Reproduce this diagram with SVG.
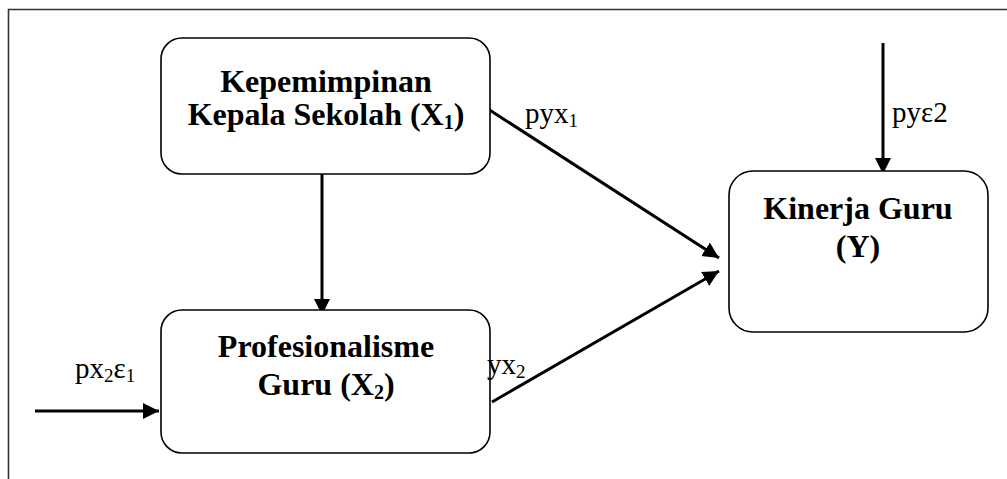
<svg xmlns="http://www.w3.org/2000/svg" width="1007" height="479" viewBox="0 0 1007 479">
<style>
.box{fill:#fff;stroke:#000;stroke-width:1.6}
.t{font-family:"Liberation Serif","Times New Roman",serif;font-weight:bold;font-size:32px;fill:#000;text-anchor:middle}
.lb{font-family:"Liberation Serif","Times New Roman",serif;font-size:29px;fill:#000}
.sub{font-size:19px}
.tsub{font-size:20px}
.c{stroke:#000;stroke-width:3;fill:none;marker-end:url(#ah)}
.frame{stroke:#333;stroke-width:1.6;fill:none}
</style>
<defs>
<marker id="ah" markerUnits="userSpaceOnUse" markerWidth="18" markerHeight="18" refX="16" refY="8" orient="auto">
<path d="M0,0 L16,8 L0,16 z" fill="#000"/>
</marker>
</defs>
<rect width="1007" height="479" fill="#fff"/>
<path class="frame" d="M8.5,479 L8.5,9.5 L1007,9.5"/>
<g id="connectors">
<line class="c" x1="322" y1="174" x2="322" y2="315"/>
<line class="c" x1="488" y1="109" x2="719" y2="258"/>
<line class="c" x1="492" y1="402" x2="719" y2="271"/>
<line class="c" x1="883" y1="43" x2="883" y2="174"/>
<line class="c" x1="35" y1="411" x2="159" y2="411"/>
</g>
<g id="x1">
<rect class="box" x="161" y="38" width="329" height="136" rx="21"/>
<text class="t" x="326" y="92">Kepemimpinan</text>
<text class="t" x="326" y="125">Kepala Sekolah (X<tspan class="tsub" dy="4">1</tspan><tspan dy="-4">)</tspan></text>
</g>
<g id="x2">
<rect class="box" x="161" y="310" width="329" height="143" rx="21"/>
<text class="t" x="326" y="357">Profesionalisme</text>
<text class="t" x="326" y="395">Guru (X<tspan class="tsub" dy="4">2</tspan><tspan dy="-4">)</tspan></text>
</g>
<g id="y">
<rect class="box" x="729" y="171" width="259" height="161" rx="24"/>
<text class="t" x="858" y="219">Kinerja Guru</text>
<text class="t" x="858" y="257">(Y)</text>
</g>
<g id="labels">
<text class="lb" x="525" y="123">pyx<tspan class="sub" dy="4">1</tspan></text>
<text class="lb" x="892" y="122">pyε2</text>
<text class="lb" x="75" y="378">px<tspan class="sub" dy="4">2</tspan><tspan dy="-4">ε</tspan><tspan class="sub" dy="4">1</tspan></text>
<text class="lb" x="487" y="374">yx<tspan class="sub" dy="4">2</tspan></text>
</g>
</svg>
